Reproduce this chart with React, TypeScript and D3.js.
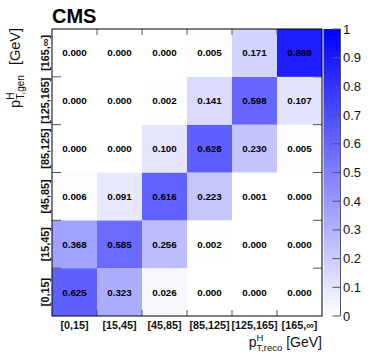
import React from "react";
import * as d3 from "d3";

const recoBins = ["[0,15]", "[15,45]", "[45,85]", "[85,125]", "[125,165]", "[165,∞]"];
const genBins = ["[0,15]", "[15,45]", "[45,85]", "[85,125]", "[125,165]", "[165,∞]"];

// rows = gen bin (bottom to top), columns = reco bin
const gen0 = [0.625, 0.323, 0.026, 0.0, 0.0, 0.0];
const gen1 = [0.368, 0.585, 0.256, 0.002, 0.0, 0.0];
const gen2 = [0.006, 0.091, 0.616, 0.223, 0.001, 0.0];
const gen3 = [0.0, 0.0, 0.1, 0.628, 0.23, 0.005];
const gen4 = [0.0, 0.0, 0.002, 0.141, 0.598, 0.107];
const gen5 = [0.0, 0.0, 0.0, 0.005, 0.171, 0.888];
const matrix = [gen0, gen1, gen2, gen3, gen4, gen5];

const zTicks = [0, 0.1, 0.2, 0.3, 0.4, 0.5, 0.6, 0.7, 0.8, 0.9, 1];

const font = "'Liberation Sans', Arial, Helvetica, sans-serif";

const App = () => {
    const left = 52;
    const top = 29;
    const width = 270;
    const height = 287;
    const barX = 323.5;
    const barW = 17;

    const xScale = d3.scaleBand().domain(recoBins).range([left, left + width]);
    const yScale = d3.scaleBand().domain(genBins).range([top + height, top]);
    const zScale = d3.scaleLinear().domain([0, 1]).range([top + height, top]);
    const color = d3.scaleLinear<string>().domain([0, 1]).range(["#ffffff", "#0000ff"]);

    const cells = [];
    matrix.forEach((row, i) => {
        row.forEach((v, j) => {
            cells.push({ gen: genBins[i], reco: recoBins[j], v });
        });
    });

    const tickColor = "#555";

    return (
        <svg width={374} height={361} style={{ display: "block", position: "absolute", left: 0, top: 0 }} fontFamily={font}>
            <defs>
                <linearGradient id="zgrad" x1="0" y1="1" x2="0" y2="0">
                    <stop offset="0" stopColor={color(0)} />
                    <stop offset="1" stopColor={color(1)} />
                </linearGradient>
            </defs>

            {/* cells */}
            {cells.map((c, k) => (
                <g key={k}>
                    {c.v > 0 && (
                        <rect
                            x={xScale(c.reco)}
                            y={yScale(c.gen)}
                            width={xScale.bandwidth()}
                            height={yScale.bandwidth()}
                            fill={color(c.v)}
                        />
                    )}
                    <text
                        x={xScale(c.reco)! + xScale.bandwidth() / 2}
                        y={yScale(c.gen)! + yScale.bandwidth() / 2 + 3.5}
                        textAnchor="middle"
                        fontSize={9.8}
                        fontWeight="bold"
                        fill="#000"
                    >
                        {c.v.toFixed(3)}
                    </text>
                </g>
            ))}

            {/* tick marks on frame */}
            {recoBins.slice(1).map((b) => (
                <g key={"xt" + b}>
                    <line x1={xScale(b)} x2={xScale(b)} y1={top} y2={top + 6} stroke={tickColor} />
                    <line x1={xScale(b)} x2={xScale(b)} y1={top + height} y2={top + height - 6} stroke={tickColor} />
                </g>
            ))}
            {genBins.slice(1).map((b) => (
                <g key={"yt" + b}>
                    <line x1={left} x2={left + 9} y1={yScale(b)! + yScale.bandwidth()} y2={yScale(b)! + yScale.bandwidth()} stroke={tickColor} />
                    <line x1={left + width} x2={left + width - 9} y1={yScale(b)! + yScale.bandwidth()} y2={yScale(b)! + yScale.bandwidth()} stroke={tickColor} />
                </g>
            ))}

            {/* frame */}
            <rect x={left} y={top} width={width} height={height} fill="none" stroke="#000" strokeWidth={1} />

            {/* x tick labels */}
            {recoBins.map((b) => (
                <text
                    key={"xl" + b}
                    x={xScale(b)! + xScale.bandwidth() / 2}
                    y={328.5}
                    textAnchor="middle"
                    fontSize={10.8}
                    fontWeight="bold"
                    fill="#111"
                >
                    {b}
                </text>
            ))}

            {/* y tick labels */}
            {genBins.map((b) => (
                <text
                    key={"yl" + b}
                    transform={`translate(48.5,${yScale(b)! + yScale.bandwidth() / 2}) rotate(-90)`}
                    textAnchor="middle"
                    fontSize={10.8}
                    fontWeight="bold"
                    fill="#111"
                >
                    {b}
                </text>
            ))}

            {/* colour bar */}
            <rect x={barX} y={top} width={barW} height={height} fill="url(#zgrad)" />
            <line x1={barX + barW} x2={barX + barW} y1={top} y2={top + height} stroke={tickColor} />
            {zTicks.map((t) => (
                <g key={"zt" + t}>
                    <line x1={barX + barW - 8} x2={barX + barW} y1={zScale(t)} y2={zScale(t)} stroke={tickColor} />
                    <text x={343} y={zScale(t) + 4.5} fontSize={13} fill="#111">
                        {d3.format("~g")(t)}
                    </text>
                </g>
            ))}

            {/* CMS label */}
            <text x={52} y={23} fontSize={20} fontWeight="bold" fill="#000">CMS</text>

            {/* x axis title */}
            <text x={left + width} y={347} textAnchor="end" fontSize={14} fill="#111">
                p
                <tspan dy={-6} fontSize={9.5}>H</tspan>
                <tspan dx={-7} dy={10} fontSize={9.5}>T,reco</tspan>
                <tspan dy={-4}> [GeV]</tspan>
            </text>

            {/* y axis title */}
            <text transform={`translate(20,${top - 1}) rotate(-90)`} textAnchor="end" fontSize={14.5} fill="#111">
                p
                <tspan dy={-6} fontSize={10}>H</tspan>
                <tspan dx={-7} dy={10} fontSize={10}>T,gen</tspan>
                <tspan dx={6} dy={-4}> [GeV]</tspan>
            </text>
        </svg>
    );
};

export default App;
